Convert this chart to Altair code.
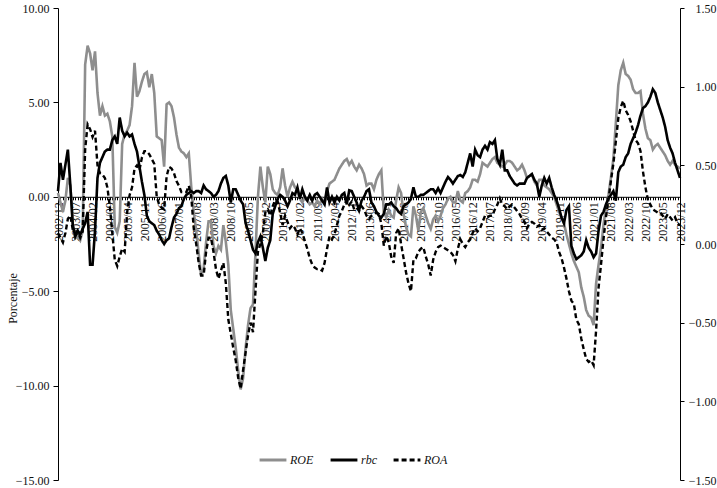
import json
import altair as alt
import pandas as pd

# Monthly periods from 2002/12 to 2023/12
months = []
yy, mm = 2002, 12
for _ in range(253):
    months.append(f"{yy}/{mm:02d}")
    mm += 1
    if mm > 12:
        mm, yy = 1, yy + 1

series_names = ["ROE", "rbc", "ROA"]

# ROE (left axis, %)
roe = [
    0.2, -0.3, -0.8, -0.2, 1.0, 0.6, -1.5, -2.2, -2.1, -2.3,
    -1.8, 7.0, 8.0, 7.6, 6.7, 7.7, 5.5, 4.3, 4.8, 4.3,
    4.4, 4.0, 3.2, -1.6, -1.9, -1.3, 2.8, 3.3, 3.5, 3.8,
    4.8, 7.1, 5.3, 5.6, 6.1, 6.5, 6.6, 5.8, 6.5, 5.5,
    3.2, 3.1, 3.0, 1.6, 4.9, 5.0, 4.8, 4.2, 3.3, 2.6,
    2.4, 2.3, 2.1, 2.3, 0.5, -0.8, -1.8, -3.0, -4.2, -3.8,
    -2.4, -1.3, -1.3, -2.6, -3.0, -2.6, -2.8, -1.5, -2.4, -3.6,
    -6.0, -7.0, -8.0, -9.2, -10.2, -9.6, -8.0, -6.8, -5.9, -5.7,
    -3.0, 0.0, 1.6, 0.5, -0.3, 1.6, 1.2, 0.4, 0.2, 0.1,
    0.5, 1.5, 0.6, 0.0, 0.5, 0.8, 0.5, 0.4, -0.1, -0.3,
    0.0, -0.2, -0.4, -0.3, -0.5, -0.2, -0.4, -0.1, -0.3, 0.3,
    0.7, 0.8, 0.9, 1.2, 1.5, 1.7, 1.9, 2.0, 1.7, 1.9,
    1.6, 1.4, 1.7, 1.5, 1.2, 0.6, 0.7, 0.7, 0.4, 0.9,
    1.2, 1.4, -0.8, -1.1, -0.7, -1.0, -1.1, -0.2, 0.5, 0.2,
    -0.9, -1.6, -2.0, -2.1, -0.5, -1.0, -1.8, -0.8, -0.6, -1.0,
    -1.4, -1.7, -1.2, -1.0, -1.3, -1.0, -0.6, -0.4, -0.1, 0.0,
    -0.3, -0.3, 0.3, -0.2, -0.3, 0.2, 0.3, 0.5, 0.9, 0.9,
    0.8, 1.2, 1.8, 1.7, 1.6, 1.8, 2.0, 2.1, 1.8, 1.7,
    1.6, 1.7, 1.9, 1.9, 1.8, 1.6, 1.4, 1.5, 1.7, 1.4,
    1.0, 1.1, 1.2, 0.8, 0.6, 0.9, 0.9, 0.6, 0.5, 0.4,
    0.2, 0.0, -0.4, -0.8, -1.1, -1.4, -2.0, -2.5, -3.0, -3.4,
    -3.7, -4.0, -4.8, -5.3, -6.0, -6.3, -6.4, -6.8, -4.6, -3.6,
    -2.7, -1.5, -0.6, 0.1, 1.0, 2.0, 3.9, 5.9, 6.7, 7.1,
    6.5, 6.4, 6.2, 5.7, 5.5, 5.5, 5.6, 4.4, 3.6, 3.1,
    3.0, 2.5, 2.7, 2.8, 2.6, 2.4, 2.2, 1.9, 1.7, 1.9,
    1.7, 1.6, 1.5,
]

# rbc (left axis, %)
rbc = [
    0.3, 1.8, 0.9, 1.7, 2.5, 0.6, -1.5, -2.1, -1.8, -2.0,
    -1.7, -1.4, -0.8, -3.6, -3.6, -1.8, 1.0, 1.8, 2.1, 2.4,
    2.5, 2.5, 3.0, 3.2, 2.8, 4.2, 3.5, 3.2, 3.4, 3.2,
    3.3, 2.8, 2.4, 1.6, 0.8, 0.1, -1.0, -1.3, -1.4, -1.5,
    -1.8, -2.0, -2.3, -2.5, -2.3, -2.2, -1.6, -1.1, -0.9, -0.6,
    -0.5, -0.1, 0.1, 0.2, 0.3, 0.2, 0.3, 0.3, 0.2, 0.6,
    0.4, 0.3, 0.2, 0.0, 0.1, 0.3, 0.7, 1.0, 1.1, 0.6,
    -0.3, 0.4, 0.4, 0.1, -0.2, -0.4, -1.4, -1.8, -2.3, -2.8,
    -3.0, -2.4, -2.1, -2.7, -3.4, -2.7, -2.3, -0.9, -0.5, -0.1,
    0.1, 0.0, -0.2, -0.5, -0.2, 0.2, 0.1, 0.5, -0.1, 0.4,
    0.0, -0.2, 0.1, -0.2, 0.1, 0.2, 0.0, -0.2, -0.4, 0.5,
    -0.3, 0.0, -0.3, 0.0, -0.2, 0.1, 0.2, -0.4, 0.35, 0.3,
    0.0, -0.3, -0.7, -0.2, 0.0, 0.3, 0.4, -0.3, -0.5, -0.8,
    -1.0, -1.1, -0.9, -0.4, -0.4, -0.3, -0.5, -0.6, -0.8, -0.9,
    -0.5, -0.4, -0.3, -0.1, 0.5, 0.0, 0.0, 0.1, 0.1, 0.2,
    0.3, 0.4, 0.4, 0.2, 0.45, 0.2, 0.5, 0.8, 1.05, 0.9,
    0.7, 0.9, 1.1, 1.15, 1.05, 1.3, 1.8, 2.3, 1.6, 2.5,
    2.2, 2.1, 2.5, 2.7, 2.5, 2.9, 2.8, 3.0, 2.0, 1.7,
    2.5, 1.4, 1.4, 1.1, 0.9, 0.7, 0.6, 0.7, 0.7, 0.7,
    1.0, 1.1, 1.2, 0.9, 0.7, 0.0, 0.6, 1.0, 0.7, 1.0,
    0.5, 0.1, -0.2, -0.6, -1.1, -1.4, -0.7, -0.5, -2.6, -3.0,
    -3.3, -3.2, -3.1, -2.9, -2.3, -2.7, -2.9, -3.2, -3.0, -1.8,
    -1.0, -0.8, -0.4, -0.1, 0.1, 0.3, -0.2, 1.3, 1.6, 1.7,
    2.1, 2.3, 2.8, 3.1, 3.4, 3.8, 4.3, 4.7, 4.8, 5.0,
    5.3, 5.7, 5.5, 5.0, 4.6, 4.2, 3.7, 3.0, 2.6, 2.3,
    1.8, 1.4, 1.0,
]

# ROA (right axis, %)
roa = [
    0.07, 0.04, 0.01, 0.07, 0.16, 0.18, 0.09, 0.07, 0.08, 0.04,
    0.08, 0.60, 0.76, 0.73, 0.68, 0.72, 0.50, 0.45, 0.44, 0.42,
    0.36, 0.24, 0.07, -0.10, -0.14, -0.08, -0.03, -0.05, 0.20, 0.31,
    0.36, 0.48, 0.50, 0.47, 0.55, 0.59, 0.59, 0.57, 0.54, 0.51,
    0.30, 0.25, 0.23, 0.22, 0.43, 0.49, 0.48, 0.45, 0.40, 0.37,
    0.33, 0.33, 0.33, 0.37, 0.30, 0.10, 0.00, -0.12, -0.20, -0.20,
    -0.05, 0.04, 0.04, -0.05, -0.16, -0.22, -0.17, -0.12, -0.25, -0.48,
    -0.57, -0.66, -0.74, -0.85, -0.92, -0.80, -0.69, -0.58, -0.50, -0.56,
    -0.30, -0.05, 0.00, 0.07, 0.20, 0.22, 0.18, 0.24, 0.28, 0.27,
    0.20, 0.12, 0.18, 0.14, 0.10, 0.12, 0.10, 0.06, 0.10, 0.07,
    0.02, -0.03, -0.09, -0.13, -0.15, -0.16, -0.16, -0.17, -0.12, -0.03,
    0.05, 0.03, 0.06, 0.12, 0.18, 0.21, 0.25, 0.28, 0.25, 0.27,
    0.22, 0.23, 0.21, 0.24, 0.22, 0.18, 0.16, 0.18, 0.19, 0.20,
    0.19, 0.13, -0.01, 0.05, 0.01, -0.08, -0.12, 0.07, 0.10, 0.00,
    -0.09, -0.18, -0.25, -0.30, -0.10, -0.09, -0.05, -0.03, -0.02, -0.08,
    -0.13, -0.20, -0.10, -0.05, -0.02, -0.01, -0.02, -0.03, -0.04, -0.05,
    -0.07, -0.11, -0.03, 0.03, 0.00, -0.02, 0.01, 0.03, 0.07, 0.10,
    0.08, 0.10, 0.14, 0.18, 0.17, 0.18, 0.18, 0.22, 0.25, 0.29,
    0.25, 0.24, 0.22, 0.24, 0.25, 0.23, 0.21, 0.19, 0.16, 0.14,
    0.10, 0.13, 0.14, 0.13, 0.11, 0.12, 0.09, 0.10, 0.08, 0.06,
    0.04, 0.03, 0.01, -0.05, -0.09, -0.15, -0.22, -0.30, -0.36, -0.38,
    -0.48, -0.51, -0.60, -0.67, -0.73, -0.75, -0.74, -0.77, -0.55, -0.28,
    -0.13, 0.03, 0.17, 0.28, 0.40, 0.51, 0.65, 0.80, 0.87, 0.91,
    0.85, 0.82, 0.78, 0.72, 0.66, 0.64, 0.59, 0.46, 0.36, 0.28,
    0.25, 0.22, 0.21, 0.20, 0.20, 0.18, 0.16, 0.19, 0.17, 0.15,
    0.17, 0.13, 0.12,
]

left_ticks = [-15, -10, -5, 0, 5, 10]
right_ticks = [-1.5, -1.0, -0.5, 0.0, 0.5, 1.0, 1.5]

FONT = "Liberation Serif"
W, H = 622, 472
LEFT_DOMAIN = [-15, 10]
# distance from the bottom of the plot up to the zero line of the left scale
zero_offset = -H * (0 - LEFT_DOMAIN[0]) / (LEFT_DOMAIN[1] - LEFT_DOMAIN[0])

n = len(months)
df = pd.DataFrame({
    "i": list(range(n)) * 3,
    "periodo": months * 3,
    "serie": ["ROE"] * n + ["rbc"] * n + ["ROA"] * n,
    "valor": roe + rbc + roa,
})

color_scale = alt.Scale(domain=series_names, range=["#8e8e8e", "#000000", "#000000"])
dash_scale = alt.Scale(domain=series_names, range=[[1, 0], [1, 0], [5, 3]])

legend = alt.Legend(
    orient="none", legendX=200, legendY=437, direction="horizontal", title=None,
    symbolType="stroke", symbolSize=720, symbolStrokeWidth=3,
    labelFont=FONT, labelFontStyle="italic", labelFontSize=12, labelColor="#111",
    labelOffset=2, columnPadding=10,
)

label_expr = "datum.value % 7 == 0 ? " + json.dumps(months) + "[datum.value] : ''"

x_enc = alt.X(
    "i:Q",
    scale=alt.Scale(domain=[0, n - 1], nice=False, zero=False),
    axis=alt.Axis(
        values=list(range(n)), labelExpr=label_expr, labelAngle=-90, labelOverlap=False,
        labelFont=FONT, labelFontSize=12, labelColor="#111", labelPadding=2,
        tickSize=3, tickColor="#000", domainColor="#000", domainWidth=1,
        offset=zero_offset, grid=False, title=None,
    ),
)

y_left = alt.Y(
    "valor:Q",
    scale=alt.Scale(domain=LEFT_DOMAIN, nice=False, zero=False),
    axis=alt.Axis(
        values=left_ticks, format=".2f", grid=False, tickSize=5, labelPadding=4,
        labelFont=FONT, labelFontSize=12, labelColor="#111",
        tickColor="#000", domainColor="#000",
        title="Porcentaje", titleFont=FONT, titleFontSize=12, titleFontWeight="normal",
        titleColor="#111", titleX=-46, titleY=290, titleAngle=-90,
        titleAlign="center", titleBaseline="middle",
    ),
)
y_right = alt.Y(
    "valor:Q",
    scale=alt.Scale(domain=[-1.5, 1.5], nice=False, zero=False),
    axis=alt.Axis(
        orient="right", values=right_ticks, format=".2f", grid=False,
        tickSize=4, labelPadding=32, labelAlign="right",
        labelFont=FONT, labelFontSize=12, labelColor="#111",
        tickColor="#000", domainColor="#000", title=None,
    ),
)

color_enc = alt.Color("serie:N", scale=color_scale, legend=legend)
dash_enc = alt.StrokeDash("serie:N", scale=dash_scale, legend=legend)

base = alt.Chart(df)

# ROE and rbc share the left scale; ROE is drawn first so rbc sits on top
left_lines = base.transform_filter(alt.datum.serie != "ROA").mark_line(strokeWidth=2.6).encode(
    x=x_enc, y=y_left, color=color_enc, strokeDash=dash_enc,
    order=alt.Order("i:Q"),
)
roa_line = base.transform_filter(alt.datum.serie == "ROA").mark_line(strokeWidth=2.4).encode(
    x=x_enc, y=y_right, color=color_enc, strokeDash=dash_enc,
)

chart = (
    alt.layer(left_lines, roa_line)
    .resolve_scale(y="independent")
    .properties(
        width=W, height=H,
        padding={"left": 58, "top": 8, "right": 37, "bottom": 8},
        autosize=alt.AutoSizeParams(type="none"),
        background="white",
    )
    .configure_view(stroke=None)
)

chart.save("out.html", embed_options={"renderer": "svg", "actions": False})
